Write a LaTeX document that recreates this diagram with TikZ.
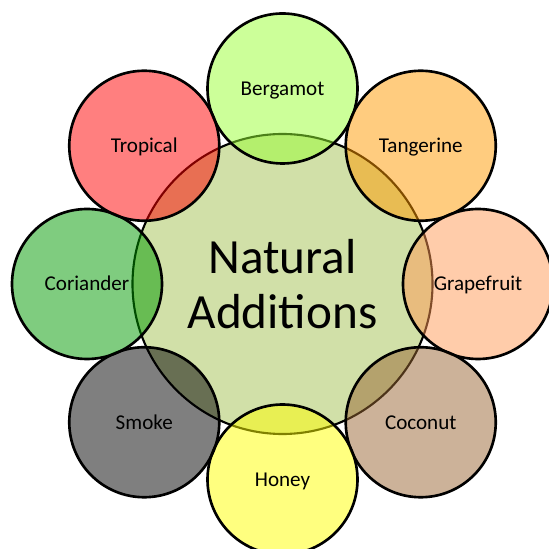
\documentclass[tikz,border=0pt]{standalone}
\usepackage{fontspec}
\setmainfont{Carlito}
\begin{document}
\begin{tikzpicture}[
	flavour/.style={circle, draw=black, line width=1.5pt, minimum size=3cm, inner sep=0pt,
		fill opacity=0.5, text opacity=1, text height=7.7pt, text depth=0pt,
		font=\fontsize{12}{14}\selectfont},
	core/.style={circle, draw=black, line width=1.2pt, minimum size=6cm, inner sep=0pt,
		fill={rgb,255:red,209;green,224;blue,168}, align=center,
		font=\fontsize{28}{31}\selectfont}
	]
	\useasboundingbox (-5.65,-5.30) rectangle (5.33,5.68);
	\node[core] (natural) at (0,0) {Natural\\Additions};
	\node[flavour, fill={rgb,255:red,153;green,255;blue,51}] (bergamot) at (90:3.91) {Bergamot};
	\node[flavour, fill={rgb,255:red,255;green,153;blue,0}] (tangerine) at (45:3.91) {Tangerine};
	\node[flavour, fill={rgb,255:red,255;green,153;blue,85}] (grapefruit) at (0:3.91) {Grapefruit};
	\node[flavour, fill={rgb,255:red,153;green,102;blue,51}] (coconut) at (-45:3.91) {Coconut};
	\node[flavour, fill={rgb,255:red,255;green,255;blue,0}] (honey) at (-90:3.91) {Honey};
	\node[flavour, fill=black] (smoke) at (-135:3.91) {Smoke};
	\node[flavour, fill={rgb,255:red,0;green,153;blue,0}] (coriander) at (180:3.91) {Coriander};
	\node[flavour, fill={rgb,255:red,255;green,0;blue,0}] (tropical) at (135:3.91) {Tropical};
\end{tikzpicture}
\end{document}
